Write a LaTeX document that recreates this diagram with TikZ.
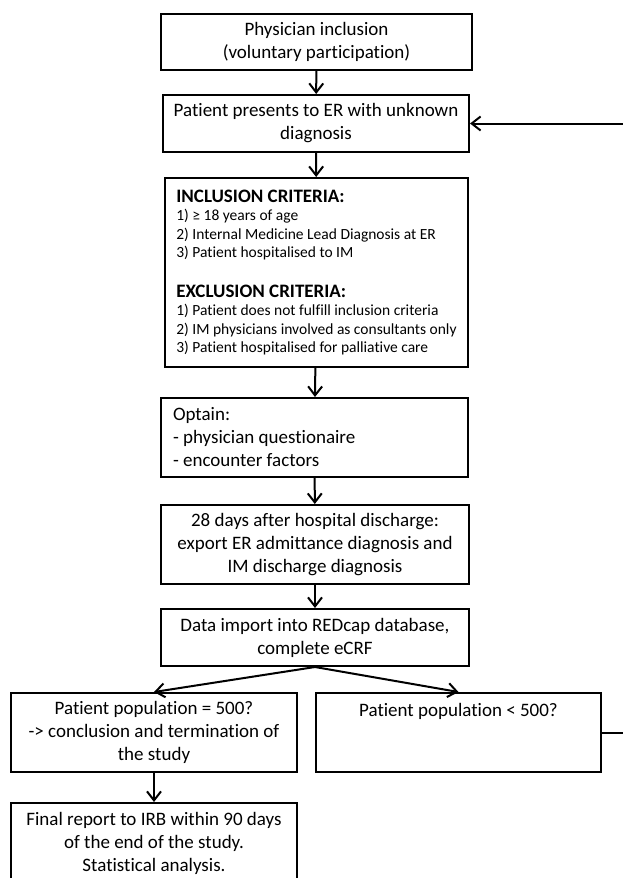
\documentclass[tikz,border=0pt]{standalone}
\usepackage{fontspec}
\setmainfont{Carlito}[Ligatures=NoCommon]
\usepackage{tikz}
\usetikzlibrary{arrows.meta,positioning}
\tikzset{
  flowbox/.style={draw, line width=2pt, align=center, inner sep=0pt, font=\fontsize{19}{23}\selectfont},
  flowlist/.style={flowbox, align=left, font=\fontsize{15.5}{18.5}\selectfont},
  flowarrow/.style={-{Straight Barb[length=9pt,width=14pt,line width=2pt]}, line width=2pt},
  flowline/.style={line width=2pt}
}
\newcommand{\critheading}[1]{{\fontsize{19}{22}\selectfont\bfseries #1}}

\begin{document}
\begin{tikzpicture}[x=1pt,y=-1pt]
\useasboundingbox (0,0) rectangle (623,878);
\node[flowbox, minimum width=311, minimum height=56] (physician) at (316.5,42) {Physician inclusion\\(voluntary participation)};
\node[flowbox, minimum width=306, minimum height=57] (presents) at (316,123.5) {Patient presents to ER with unknown\\diagnosis};
\node[flowlist, minimum width=303, minimum height=189] (criteria) at (316.5,272.5) {\critheading{INCLUSION CRITERIA:}\\
1) ≥ 18 years of age\\
2) Internal Medicine Lead Diagnosis at ER\\
3) Patient hospitalised to IM\\[21pt]
\critheading{EXCLUSION CRITERIA:}\\
1) Patient does not fulfill inclusion criteria\\
2) IM physicians involved as consultants only\\
3) Patient hospitalised for palliative care};
\node[flowbox, align=flush left, text width=283pt, minimum width=307, minimum height=79] (optain) at (314.5,437.5) {Optain:\\- physician questionaire\\- encounter factors};
\node[flowbox, minimum width=308, minimum height=79] (export) at (315,544.5) {28 days after hospital discharge:\\export ER admittance diagnosis and\\IM discharge diagnosis};
\node[flowbox, minimum width=308, minimum height=57] (redcap) at (315,637.5) {Data import into REDcap database,\\complete eCRF};
\node[flowbox, minimum width=286, minimum height=79] (complete) at (154,732.5) {Patient population = 500?\\-> conclusion and termination of\\the study};
\node[flowbox, minimum width=285, minimum height=79] (incomplete) at (458.5,732.5) {Patient population < 500?\\\mbox{}\\\mbox{}};
\node[flowbox, minimum width=286, minimum height=80] (report) at (154,843) {Final report to IRB within 90 days\\of the end of the study.\\Statistical analysis.};
\coordinate (loopcorner) at (624,732.5);

\draw[flowarrow] (physician) -- (presents);
\draw[flowarrow] (presents) -- (criteria);
\draw[flowarrow] (criteria) -- (optain);
\draw[flowarrow] (optain) -- (export);
\draw[flowarrow] (export) -- (redcap);
\draw[flowarrow] (redcap.south) -- (complete.north);
\draw[flowarrow] (redcap.south) -- (incomplete.north);
\draw[flowarrow] (complete) -- (report);
\draw[flowarrow] (incomplete.east) -- (loopcorner) |- (presents.east);
\end{tikzpicture}
\end{document}
